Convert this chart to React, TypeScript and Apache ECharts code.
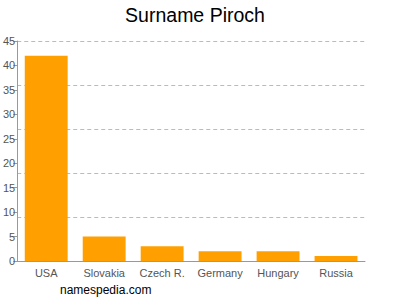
import React, { useEffect, useRef } from "react";
import * as echarts from "echarts";

const categories = ["USA", "Slovakia", "Czech R.", "Germany", "Hungary", "Russia"];
const counts = [42, 5, 3, 2, 2, 1];
const titleText = "Surname Piroch";
const footerText = "namespedia.com";

export default function App() {
  const ref = useRef<HTMLDivElement>(null);
  useEffect(() => {
    const chart = echarts.init(ref.current!, null, { renderer: "svg" });
    chart.setOption({
      animation: false,
      title: {
        text: titleText,
        left: 190,
        textAlign: "center",
        top: 0,
        textStyle: { fontFamily: "Liberation Sans, Arial, sans-serif", fontSize: 19.5, fontWeight: "normal", color: "#000" },
      },
      graphic: [
        {
          type: "text",
          left: 60,
          top: 284,
          style: { text: footerText, fontFamily: "Liberation Sans, Arial, sans-serif", fontSize: 12, fill: "#000" },
        },
      ],
      grid: { left: 17, right: 35, top: 41, bottom: 39, containLabel: false },
      xAxis: {
        type: "category",
        data: categories,
        axisLine: { lineStyle: { color: "#999" } },
        axisTick: { alignWithLabel: true, length: 4, lineStyle: { color: "#999" } },
        axisLabel: { interval: 0, color: "#555", fontSize: 11, margin: 6, fontFamily: "Liberation Sans, Arial, sans-serif" },
      },
      yAxis: [
        {
          type: "value",
          min: 0,
          max: 45,
          interval: 5,
          axisLine: { show: true, lineStyle: { color: "#999" } },
          axisTick: { show: true, length: 4, lineStyle: { color: "#999" } },
          axisLabel: { color: "#555", fontSize: 11, margin: 2, fontFamily: "Liberation Sans, Arial, sans-serif" },
          splitLine: { show: false },
        },
        {
          type: "value",
          min: 0,
          max: 45,
          interval: 9,
          position: "left",
          axisLine: { show: false },
          axisTick: { show: false },
          axisLabel: { show: false },
          splitLine: { show: true, lineStyle: { color: "#bbb", type: [4, 3], width: 1 } },
        },
      ],
      series: [
        {
          type: "bar",
          data: counts,
          yAxisIndex: 0,
          barCategoryGap: "26%",
          itemStyle: { color: "#FFA000" },
        },
      ],
    });
    return () => chart.dispose();
  }, []);
  return <div ref={ref} style={{ width: 400, height: 300, position: "absolute", left: 0, top: 0 }} />;
}
